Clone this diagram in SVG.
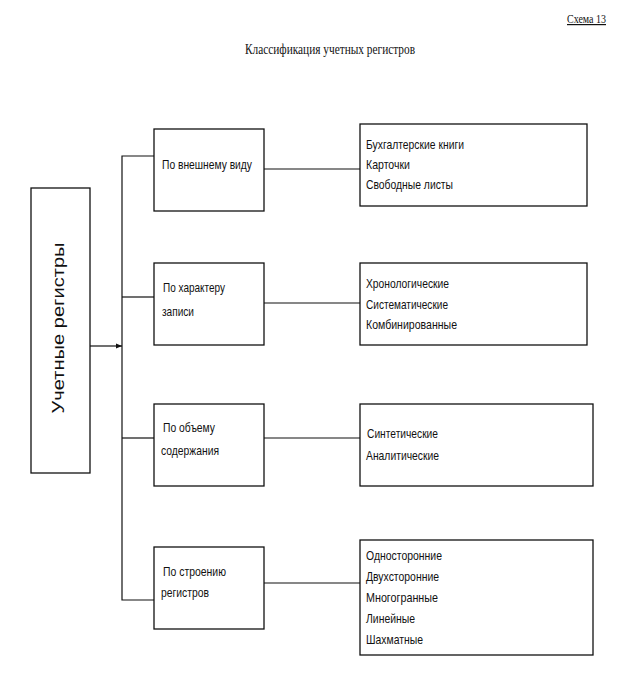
<svg xmlns="http://www.w3.org/2000/svg" width="633" height="685" viewBox="0 0 633 685">
<style>
.box{fill:#fff;stroke:#111;stroke-width:1.3}
.ln{fill:none;stroke:#111;stroke-width:1.2}
.t{font-family:"Liberation Sans Narrow","Liberation Sans",Arial,sans-serif;font-size:13px;fill:#111}
.s{font-family:"Liberation Serif","Times New Roman",serif;fill:#111}
</style>
<defs>
<marker id="ar" viewBox="0 0 10 10" refX="10" refY="5" markerWidth="6" markerHeight="6" markerUnits="userSpaceOnUse" orient="auto">
<path d="M0,1 L10,5 L0,9 z" fill="#111"/>
</marker>
</defs>
<rect width="633" height="685" fill="#fff"/>
<text class="s" x="567" y="23" font-size="12" textLength="39" lengthAdjust="spacingAndGlyphs" text-decoration="underline">Схема 13</text>
<text class="s" x="245" y="54" font-size="14" textLength="170" lengthAdjust="spacingAndGlyphs">Классификация учетных регистров</text>

<g id="connectors">
<line class="ln" x1="90" y1="346" x2="122" y2="346" marker-end="url(#ar)"/>
<polyline class="ln" points="154,156 122,156 122,600 154,600"/>
<line class="ln" x1="122" y1="297" x2="154" y2="297"/>
<line class="ln" x1="122" y1="438" x2="154" y2="438"/>
<line class="ln" x1="264" y1="169" x2="360" y2="169"/>
<line class="ln" x1="264" y1="303" x2="360" y2="303"/>
<line class="ln" x1="264" y1="438" x2="360" y2="438"/>
<line class="ln" x1="264" y1="583" x2="360" y2="583"/>
</g>

<g id="root">
<rect class="box" x="31" y="188" width="59" height="285"/>
<text transform="translate(64,328) rotate(-90)" text-anchor="middle" font-family="'Liberation Sans',Arial,sans-serif" font-size="17" fill="#111" textLength="171" lengthAdjust="spacingAndGlyphs">Учетные регистры</text>
</g>

<g id="c1">
<rect class="box" x="154" y="129" width="110" height="82"/>
<text class="t" x="162" y="169" textLength="90" lengthAdjust="spacingAndGlyphs">По внешнему виду</text>
</g>
<g id="c2">
<rect class="box" x="154" y="263" width="110" height="82"/>
<text class="t" x="163" y="292" textLength="62" lengthAdjust="spacingAndGlyphs">По характеру</text>
<text class="t" x="162" y="316" textLength="32" lengthAdjust="spacingAndGlyphs">записи</text>
</g>
<g id="c3">
<rect class="box" x="154" y="404" width="110" height="82"/>
<text class="t" x="163" y="432" textLength="52" lengthAdjust="spacingAndGlyphs">По объему</text>
<text class="t" x="161" y="455" textLength="58" lengthAdjust="spacingAndGlyphs">содержания</text>
</g>
<g id="c4">
<rect class="box" x="154" y="547" width="110" height="82"/>
<text class="t" x="163" y="576" textLength="63" lengthAdjust="spacingAndGlyphs">По строению</text>
<text class="t" x="161" y="597" textLength="48" lengthAdjust="spacingAndGlyphs">регистров</text>
</g>

<g id="r1">
<rect class="box" x="360" y="124" width="227" height="82"/>
<text class="t" x="366" y="149" textLength="98" lengthAdjust="spacingAndGlyphs">Бухгалтерские книги</text>
<text class="t" x="366" y="169" textLength="44" lengthAdjust="spacingAndGlyphs">Карточки</text>
<text class="t" x="366" y="189" textLength="87" lengthAdjust="spacingAndGlyphs">Свободные листы</text>
</g>
<g id="r2">
<rect class="box" x="360" y="263" width="227" height="82"/>
<text class="t" x="366" y="288" textLength="83" lengthAdjust="spacingAndGlyphs">Хронологические</text>
<text class="t" x="366" y="309" textLength="82" lengthAdjust="spacingAndGlyphs">Систематические</text>
<text class="t" x="366" y="329" textLength="91" lengthAdjust="spacingAndGlyphs">Комбинированные</text>
</g>
<g id="r3">
<rect class="box" x="360" y="404" width="233" height="82"/>
<text class="t" x="367" y="438" textLength="71" lengthAdjust="spacingAndGlyphs">Синтетические</text>
<text class="t" x="366" y="460" textLength="73" lengthAdjust="spacingAndGlyphs">Аналитические</text>
</g>
<g id="r4">
<rect class="box" x="360" y="540" width="233" height="115"/>
<text class="t" x="366" y="560" textLength="76" lengthAdjust="spacingAndGlyphs">Односторонние</text>
<text class="t" x="366" y="581" textLength="73" lengthAdjust="spacingAndGlyphs">Двухсторонние</text>
<text class="t" x="366" y="602" textLength="72" lengthAdjust="spacingAndGlyphs">Многогранные</text>
<text class="t" x="366" y="623" textLength="49" lengthAdjust="spacingAndGlyphs">Линейные</text>
<text class="t" x="366" y="644" textLength="57" lengthAdjust="spacingAndGlyphs">Шахматные</text>
</g>
</svg>
